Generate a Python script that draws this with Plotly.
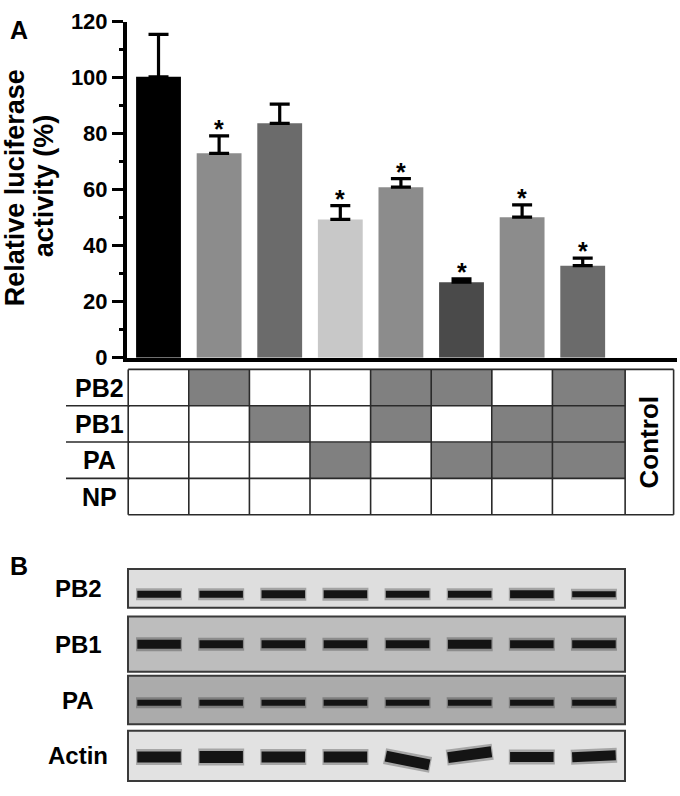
import plotly.graph_objects as go

W, H = 680, 796
FONT = "Liberation Sans"

# ---------------- data ----------------
activity = [100.3, 73.0, 83.7, 49.4, 60.9, 27.0, 50.2, 32.9]
activity_sd = [15.2, 6.2, 6.9, 4.9, 3.1, 1.2, 4.4, 2.7]
significant = [False, True, False, True, True, True, True, True]
bar_colors = ["#000000", "#8c8c8c", "#6b6b6b", "#c8c8c8",
              "#8c8c8c", "#4a4a4a", "#8c8c8c", "#6b6b6b"]
y_ticks = [0, 20, 40, 60, 80, 100, 120]

table_rows = ["PB2", "PB1", "PA", "NP"]
table_pb2 = [0, 1, 0, 0, 1, 1, 0, 1]
table_pb1 = [0, 0, 1, 0, 1, 0, 1, 1]
table_pa = [0, 0, 0, 1, 0, 1, 1, 1]
table_np = [0, 0, 0, 0, 0, 0, 0, 0]
control_label = "Control"

blot_rows = ["PB2", "PB1", "PA", "Actin"]
band_pb2 = [7, 7, 8, 8, 7, 7, 8, 6]
band_pb1 = [9, 8, 8, 8, 8, 9, 8, 8]
band_pa = [6, 6, 6, 6, 6, 6, 6, 6]
band_actin = [11, 12, 11, 11, 11, 11, 10, 10]
actin_tilt = [0, 0, 0, 0, 9, -6, 0, -2]

# ---------------- layout helpers ----------------
def fy(px):
    return 1 - px / H

def fx(px):
    return px / W

n = len(activity)
xs = list(range(n))

fig = go.Figure()

# ---- panel A bars
fig.add_trace(go.Bar(
    x=xs, y=activity, width=0.74,
    marker=dict(color=bar_colors, line=dict(width=0)),
    error_y=dict(type="data", symmetric=False, array=activity_sd,
                 arrayminus=[0] * n, color="#000000", thickness=3.2, width=10),
    xaxis="x", yaxis="y", showlegend=False, hoverinfo="skip"))

# stars
for i in range(n):
    if significant[i]:
        fig.add_annotation(x=xs[i], y=activity[i] + activity_sd[i], xref="x", yref="y",
                           text="<b>*</b>", showarrow=False, yanchor="bottom",
                           yshift=-9, font=dict(family=FONT, size=25, color="#000"))

# ---- table (heatmap)
table_z = [table_pb2, table_pb1, table_pa, table_np]
col_edges = [-0.5, 0.5, 1.5, 2.5, 3.5, 4.5, 5.5, 6.5, 7.7]
row_edges = [0, 1, 2, 3, 4]
control_right = 8.5
fig.add_trace(go.Heatmap(
    z=table_z, x=col_edges, y=row_edges,
    colorscale=[[0, "#ffffff"], [1, "#808080"]], zmin=0, zmax=1,
    showscale=False, xaxis="x", yaxis="y2", hoverinfo="skip"))

grid = dict(color="#2a2a2a", width=1.6)
shapes = []
for xe in col_edges + [control_right]:
    shapes.append(dict(type="line", xref="x", yref="y2", x0=xe, x1=xe, y0=0, y1=4, line=grid))
for ye in [0, 4]:
    shapes.append(dict(type="line", xref="x", yref="y2", x0=-0.5, x1=control_right, y0=ye, y1=ye, line=grid))
for ye in [1, 2, 3]:
    shapes.append(dict(type="line", xref="x", yref="y2", x0=-0.5, x1=col_edges[-1], y0=ye, y1=ye, line=grid))
    shapes.append(dict(type="line", xref="paper", yref="y2", x0=fx(66), x1=fx(130), y0=ye, y1=ye, line=grid))

for r, lab in enumerate(table_rows):
    fig.add_annotation(x=fx(99), y=r + 0.5, xref="paper", yref="y2", text="<b>%s</b>" % lab,
                       showarrow=False, xanchor="center", yanchor="middle",
                       font=dict(family=FONT, size=25, color="#000"))
fig.add_annotation(x=(col_edges[-1] + control_right) / 2, y=2, xref="x", yref="y2",
                   text="<b>%s</b>" % control_label, textangle=-90, showarrow=False,
                   xanchor="center", yanchor="middle",
                   font=dict(family=FONT, size=26, color="#000"))

# ---- panel B blots
band_sets = [band_pb2, band_pb1, band_pa, band_actin]
box_half = [0.347, 0.494, 0.433, 0.451]
band_offset = [0.104, 0.0, 0.05, 0.02]
box_fill = ["#dedede", "#bdbdbd", "#ababab", "#e2e2e2"]
row_px = 57.67
for r in range(4):
    shapes.append(dict(type="rect", xref="x2", yref="y3", x0=-0.5, x1=7.5,
                       y0=r - box_half[r], y1=r + box_half[r], fillcolor=box_fill[r],
                       line=dict(color="#3a3a3a", width=2), layer="below"))
    for lane in range(8):
        th = band_sets[r][lane]
        tilt = actin_tilt[lane] / row_px if blot_rows[r] == "Actin" else 0
        yc = r + band_offset[r]
        bx = [lane - 0.37, lane + 0.37]
        by = [yc - tilt * 0.1, yc + tilt * 0.9]
        fig.add_trace(go.Scatter(x=bx, y=by, mode="lines", xaxis="x2", yaxis="y3",
                                 line=dict(color="rgba(25,25,25,0.3)", width=th + 5),
                                 showlegend=False, hoverinfo="skip"))
        fig.add_trace(go.Scatter(x=[bx[0] + 0.02, bx[1] - 0.02], y=by, mode="lines",
                                 xaxis="x2", yaxis="y3",
                                 line=dict(color="#141414", width=th),
                                 showlegend=False, hoverinfo="skip"))
    fig.add_annotation(x=fx(78), y=r, xref="paper", yref="y3", text="<b>%s</b>" % blot_rows[r],
                       showarrow=False, xanchor="center", yanchor="middle",
                       font=dict(family=FONT, size=24, color="#000"))

# ---- panel letters and y title
fig.add_annotation(x=fx(8), y=fy(2), xref="paper", yref="paper", text="<b>A</b>",
                   showarrow=False, xanchor="left", yanchor="top",
                   font=dict(family=FONT, size=25, color="#000"))
fig.add_annotation(x=fx(8), y=fy(555), xref="paper", yref="paper", text="<b>B</b>",
                   showarrow=False, xanchor="left", yanchor="top",
                   font=dict(family=FONT, size=25, color="#000"))
fig.add_annotation(x=fx(15), y=fy(182), xref="paper", yref="paper",
                   text="<b>Relative luciferase</b>", textangle=-90, showarrow=False,
                   xanchor="center", yanchor="middle",
                   font=dict(family=FONT, size=27, color="#000"))
fig.add_annotation(x=fx(44), y=fy(180), xref="paper", yref="paper",
                   text="<b>activity (%)</b>", textangle=-90, showarrow=False,
                   xanchor="center", yanchor="middle",
                   font=dict(family=FONT, size=27, color="#000"))

fig.update_layout(
    width=W, height=H, margin=dict(l=0, r=0, t=0, b=0),
    paper_bgcolor="white", plot_bgcolor="white",
    shapes=shapes, showlegend=False,
    xaxis=dict(domain=[fx(127), fx(677)], range=[-0.52, 8.556], showgrid=False,
               zeroline=False, showticklabels=False, ticks="",
               showline=True, linecolor="#000", linewidth=4, anchor="y"),
    yaxis=dict(domain=[fy(357), fy(10)], range=[0, 120], tickvals=y_ticks,
               showgrid=False, zeroline=False, showline=True, linecolor="#000",
               linewidth=4, ticks="outside", ticklen=11, tickwidth=3, tickcolor="#000",
               minor=dict(dtick=10, ticks="outside", ticklen=4, tickwidth=3, tickcolor="#000"),
               tickfont=dict(family=FONT, size=22, color="#000", weight="bold"),
               ticklabeloverflow="allow", anchor="x"),
    yaxis2=dict(domain=[fy(520.9), fy(367.1)], range=[4.05, -0.05], showgrid=False,
                zeroline=False, showticklabels=False, ticks="", showline=False, anchor="x"),
    xaxis2=dict(domain=[fx(125.5), fx(627.5)], range=[-0.54, 7.54], showgrid=False,
                zeroline=False, showticklabels=False, ticks="", showline=False, anchor="y3"),
    yaxis3=dict(domain=[fy(795.7), fy(573.1)], range=[3.48, -0.38], showgrid=False,
                zeroline=False, showticklabels=False, ticks="", showline=False, anchor="x2"),
)

fig.write_html("out.html", config={"displayModeBar": False},
               post_script="document.body.style.margin='0px';document.body.style.overflow='hidden';")
